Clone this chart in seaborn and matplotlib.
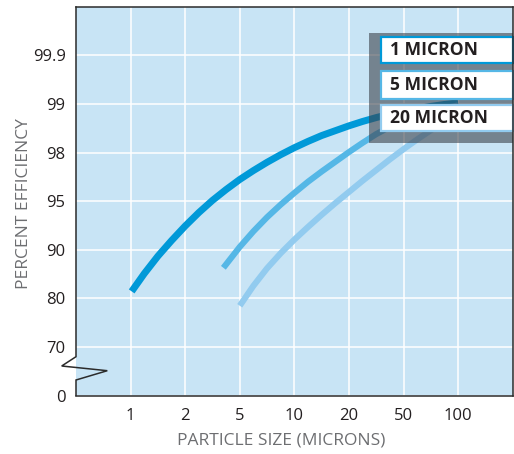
import numpy as np
import pandas as pd
import matplotlib
matplotlib.use("Agg")
import matplotlib.pyplot as plt
import seaborn as sns
from matplotlib.patches import Rectangle
from matplotlib.lines import Line2D

# ---- data ----
x_ticks = [1, 2, 5, 10, 20, 50, 100]
x_tick_labels = ["1", "2", "5", "10", "20", "50", "100"]
y_ticks = [0, 70, 80, 90, 95, 98, 99, 99.9]
y_tick_labels = ["0", "70", "80", "90", "95", "98", "99", "99.9"]
# scale anchors (equal spacing between consecutive anchors)
x_anchor = [0, 1, 2, 5, 10, 20, 50, 100, 200]
y_anchor = [0, 70, 80, 90, 95, 98, 99, 99.9, 100]

size_1 = [1.02, 1.25, 1.5, 1.75, 2, 2.75, 3.5, 4.25, 5, 6.25, 7.5, 8.75, 10,
          12.5, 15, 17.5, 20, 27.5, 35, 42.5, 50, 62.5, 75, 87.5, 100]
eff_1 = [81.45, 85.1, 88.7, 90.95, 92.45, 93.83, 95.05, 95.72, 96.34, 96.89, 97.4, 97.87, 98.10,
         98.23, 98.35, 98.45, 98.55, 98.64, 98.72, 98.79, 98.85, 98.90, 98.95, 98.99, 99.02]
size_5 = [4.1, 5, 6.25, 7.5, 8.75, 10, 12.5, 15, 17.5, 20, 27.5, 35, 42.5, 50, 75, 100]
eff_5 = [86.3, 90.3, 91.9, 93.35, 94.65, 95.51, 96.2, 96.83, 97.43, 98.01, 98.2, 98.38, 98.53,
         98.66, 98.85, 98.97]
size_20 = [5, 6.25, 7.5, 8.75, 10, 12.5, 15, 17.5, 20, 27.5, 35, 42.5, 50, 62.5, 75, 100]
eff_20 = [78.5, 82.6, 86.2, 89.3, 91.05, 92.35, 93.6, 94.8, 95.57, 96.26, 96.92, 97.58, 98.07,
          98.27, 98.46, 98.78]

series_names = ["1 MICRON", "5 MICRON", "20 MICRON"]
series_colors = ["#0099d8", "#55b7e6", "#92cbef"]
series_widths = [5.0, 4.4, 4.4]

df = pd.concat([
    pd.DataFrame({"size": size_1, "eff": eff_1, "series": series_names[0]}),
    pd.DataFrame({"size": size_5, "eff": eff_5, "series": series_names[1]}),
    pd.DataFrame({"size": size_20, "eff": eff_20, "series": series_names[2]}),
], ignore_index=True)

# ---- style ----
sns.set_style("white", {"axes.facecolor": "#c8e4f5"})
plt.rcParams["font.family"] = ["Open Sans", "DejaVu Sans"]

fig = plt.figure(figsize=(5.14, 4.54), dpi=100)
L, R, B, T = 76 / 514, 512.7 / 514, 1 - 395.7 / 454, 1 - 6.7 / 454
ax = fig.add_axes([L, B, R - L, T - B])

xpos = np.arange(len(x_anchor), dtype=float)
ypos = np.arange(len(y_anchor), dtype=float)
ax.set_xscale("function", functions=(lambda v: np.interp(v, x_anchor, xpos),
                                      lambda p: np.interp(p, xpos, x_anchor)))
ax.set_yscale("function", functions=(lambda v: np.interp(v, y_anchor, ypos),
                                      lambda p: np.interp(p, ypos, y_anchor)))

for name, col, lw in zip(series_names, series_colors, series_widths):
    sns.lineplot(data=df[df["series"] == name], x="size", y="eff", color=col,
                 linewidth=lw, estimator=None, sort=True, ax=ax,
                 solid_capstyle="butt", solid_joinstyle="round", zorder=3, legend=False)

ax.set_xlim(x_anchor[0], x_anchor[-1])
ax.set_ylim(y_anchor[0], y_anchor[-1])
ax.set_xticks(x_ticks)
ax.set_xticklabels(x_tick_labels)
ax.set_yticks(y_ticks)
ax.set_yticklabels(y_tick_labels)
ax.minorticks_off()
ax.tick_params(axis="x", length=0, pad=9, labelsize=12, labelcolor="#231f20")
ax.tick_params(axis="y", length=0, pad=7.5, labelsize=12, labelcolor="#231f20")
ax.grid(True, color="white", linewidth=1.1, zorder=1)
ax.set_axisbelow(True)

ax.set_xlabel("PARTICLE SIZE (MICRONS)", fontsize=12.5, color="#6d6e71")
ax.set_ylabel("PERCENT EFFICIENCY", fontsize=12.5, color="#6d6e71")
ax.xaxis.set_label_coords((281.5 - 76) / 436.7, (395.7 - 440.7) / 389)
ax.xaxis.label.set_va("center")
ax.yaxis.set_label_coords((24 - 76) / 436.7, 0.494)
ax.yaxis.label.set_va("center")

spine_col = "#2b2b2b"
for side in ["top", "right", "bottom"]:
    ax.spines[side].set_color(spine_col)
    ax.spines[side].set_linewidth(1.1)
    ax.spines[side].set_zorder(10)
ax.spines["left"].set_visible(False)

# broken left axis with zigzag
ax_h = 389.0
def fy(py):
    return (395.7 - py) / ax_h
def fx(px):
    return (px - 76) / 436.7
zx = [fx(76), fx(76), fx(61.7), fx(107.3), fx(76), fx(76)]
zy = [1.0, fy(356.7), fy(366), fy(370.7), fy(380), 0.0]
ax.add_line(Line2D(zx, zy, transform=ax.transAxes, color=spine_col,
                   linewidth=1.1, clip_on=False, zorder=10,
                   solid_joinstyle="miter"))

# legend panel
ax.add_patch(Rectangle((fx(369.3), fy(143.3)), fx(513) - fx(369.3), fy(33.3) - fy(143.3),
                       transform=ax.transAxes, facecolor="#3c424b", alpha=0.6,
                       edgecolor="none", zorder=4, clip_on=False))
boxes = [(36, 64.3), (70, 100), (104, 131.7)]
for (top, bot), name, col in zip(boxes, series_names, series_colors):
    ax.add_patch(Rectangle((fx(381), fy(bot - 1)), fx(513) - fx(381), fy(top + 1) - fy(bot - 1),
                           transform=ax.transAxes, facecolor="white", edgecolor=col,
                           linewidth=1.6, zorder=5, clip_on=False))
    ax.text(fx(390), fy((top + bot) / 2), name, transform=ax.transAxes,
            ha="left", va="center", fontsize=12.6, fontweight="bold",
            color="#231f20", zorder=6)

fig.savefig("out.png", dpi=100)
